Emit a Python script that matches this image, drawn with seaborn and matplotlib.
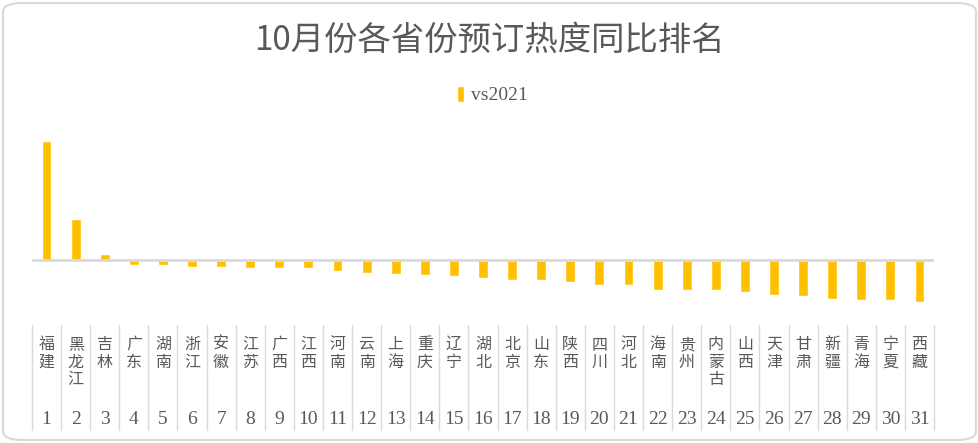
import matplotlib
matplotlib.use("Agg")
import matplotlib.pyplot as plt
import matplotlib.patches as patches
import matplotlib.transforms as mtransforms
import numpy as np
import pandas as pd
import seaborn as sns

provinces = ['福建', '黑龙江', '吉林', '广东', '湖南', '浙江', '安徽', '江苏', '广西', '江西',
             '河南', '云南', '上海', '重庆', '辽宁', '湖北', '北京', '山东', '陕西', '四川',
             '河北', '海南', '贵州', '内蒙古', '山西', '天津', '甘肃', '新疆', '青海', '宁夏', '西藏']
ranks = list(range(1, 32))
# relative change vs 2021 (arbitrary scale)
vs2021 = [118.7, 40.7, 5.7, -5.3, -5.3, -7.3, -7.3, -8.3, -8.3, -8.3,
          -11.3, -13.3, -14.3, -15.3, -16.3, -18.3, -20.3, -20.3, -22.3, -25.3,
          -25.3, -30.3, -30.3, -30.3, -32.3, -35.3, -36.3, -39.3, -40.3, -40.3, -42.3]

sns.set_style('white')
plt.rcParams['font.family'] = ['Noto Sans CJK SC', 'DejaVu Sans']

W, H = 979, 443
fig = plt.figure(figsize=(W / 100, H / 100), dpi=100)
txt_c = '#595959'
grid_c = '#D9D9D9'

# rounded chart border
fig.patches.append(patches.FancyBboxPatch((3 / W, 3 / H), 1 - 6 / W, 1 - 6 / H,
                                          boxstyle='round,pad=0,rounding_size=0.02',
                                          transform=fig.transFigure, facecolor='none',
                                          edgecolor=grid_c, linewidth=1.5, zorder=-1))

ax = fig.add_axes([32 / W, 1 - 320 / H, (934 - 32) / W, 210 / H])
ax.patch.set_alpha(0)

df = pd.DataFrame({'province': provinces, 'vs2021': vs2021})
sns.barplot(data=df, x='province', y='vs2021', order=provinces, color='#FFC000',
            width=0.34, saturation=1, label='vs2021', ax=ax, zorder=2)

ax.axhline(0, color=grid_c, lw=2, zorder=3)
ax.set_xlim(-0.5, len(provinces) - 0.5)
ax.set_ylim(-60, 150)
ax.set_xticks([])
ax.set_yticks([])
ax.set_xlabel('')
ax.set_ylabel('')
for s in ax.spines.values():
    s.set_visible(False)

# category table below the bars
tr = mtransforms.blended_transform_factory(ax.transData, fig.transFigure)
for i in range(len(provinces) + 1):
    ax.plot([i - 0.5, i - 0.5], [1 - 325 / H, 1 - 430 / H], color=grid_c, lw=1,
            transform=tr, clip_on=False)
for i, (name, r) in enumerate(zip(provinces, ranks)):
    ax.text(i, 1 - 336 / H, '\n'.join(name), transform=tr, ha='center', va='top',
            fontsize=11.5, color=txt_c, linespacing=1.05)
    ax.text(i, 1 - 420 / H, str(r), transform=tr, ha='center', va='center',
            fontsize=14, color=txt_c, family='Liberation Serif')

fig.text(0.5, 1 - 40 / H, '10月份各省份预订热度同比排名', ha='center', va='center',
         fontsize=24, color=txt_c)

leg = ax.legend(loc='center', bbox_to_anchor=(0.503, 1 - 95 / H), bbox_transform=fig.transFigure,
                frameon=False, handlelength=0.4, handleheight=0.9, handletextpad=0.35,
                prop={'family': 'Liberation Serif', 'size': 14})
for t in leg.get_texts():
    t.set_color(txt_c)

fig.savefig('out.png', dpi=100)
